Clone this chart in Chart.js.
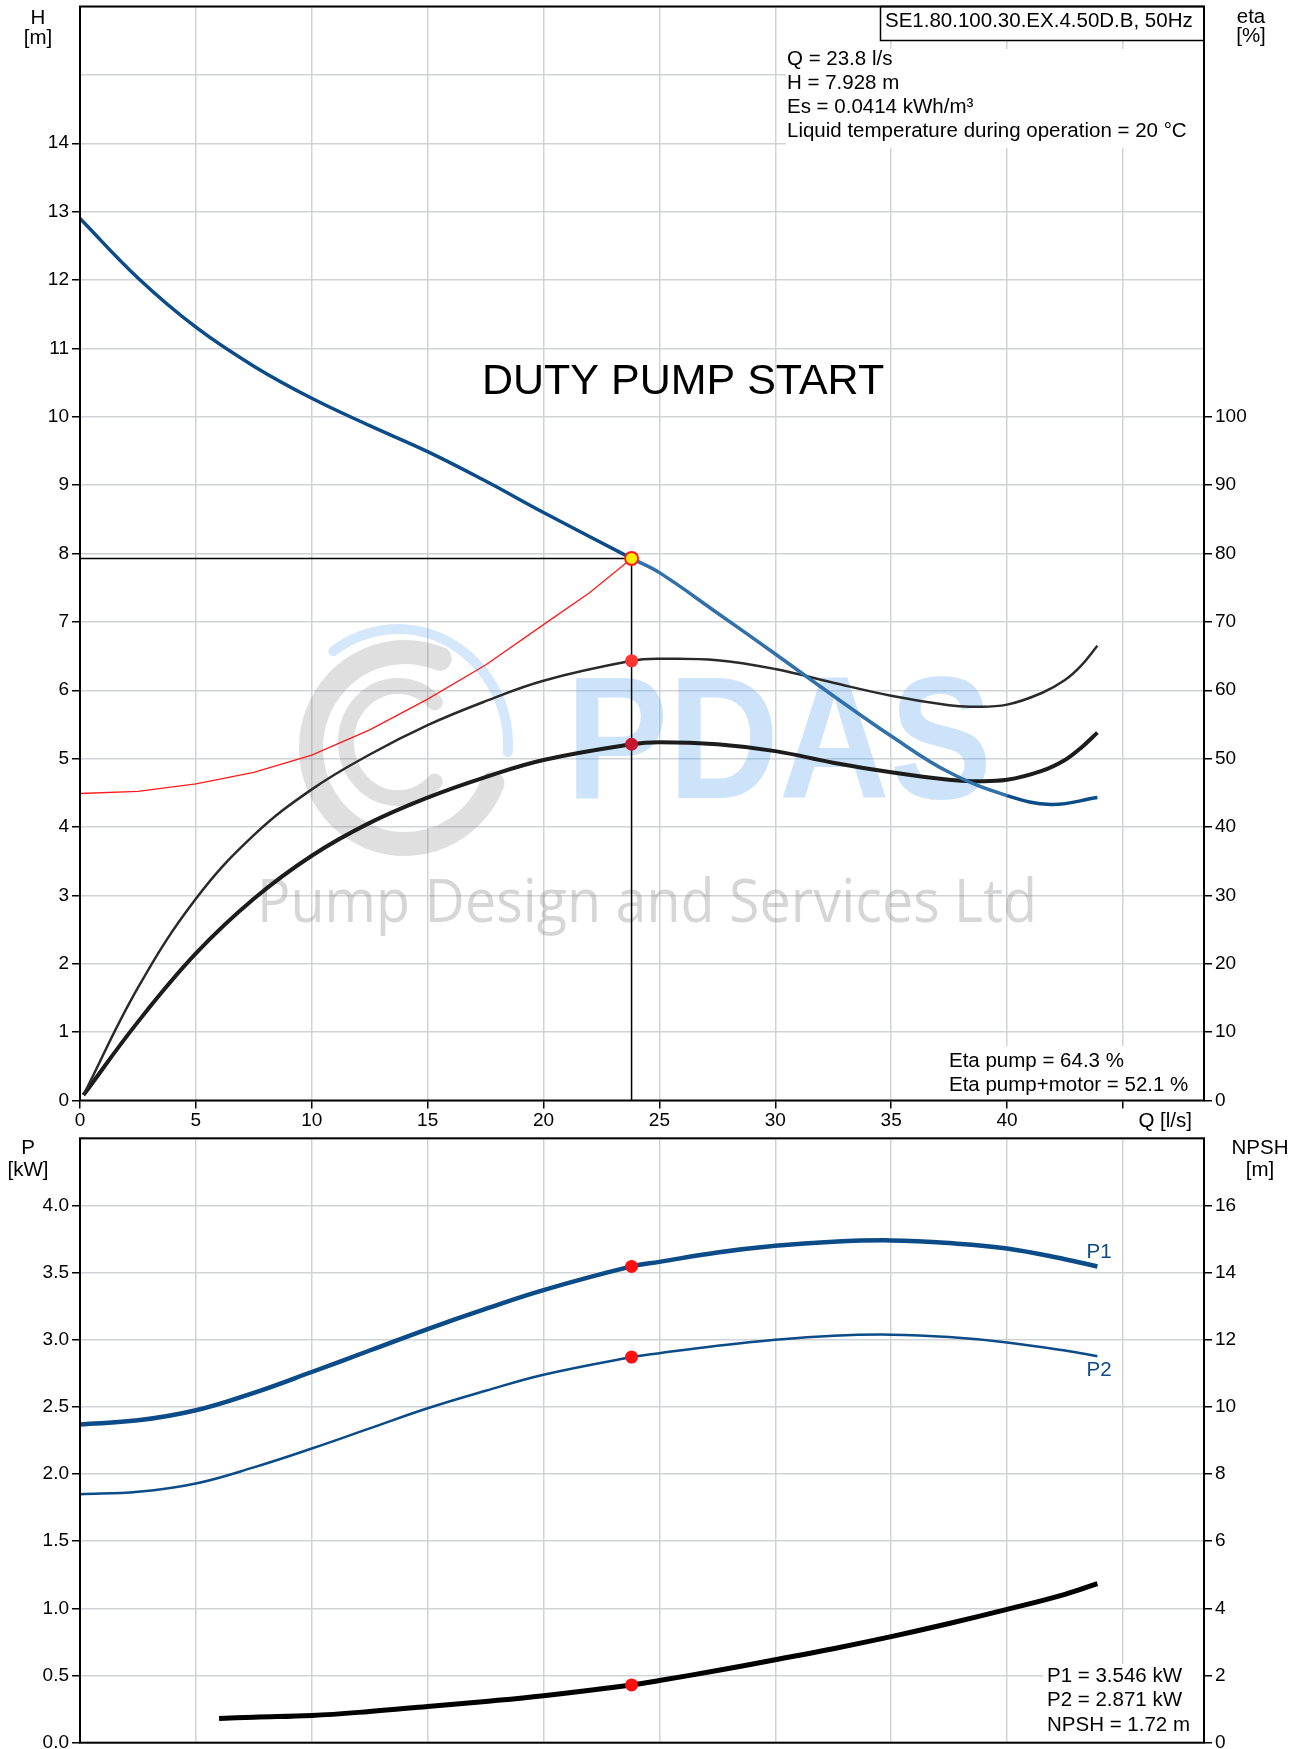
<!DOCTYPE html>
<html>
<head>
<meta charset="utf-8">
<script src="https://cdn.jsdelivr.net/npm/chart.js@4.4.1/dist/chart.umd.min.js"></script>
<style>
  html, body { margin: 0; padding: 0; background: #fff; }
  #wrap { position: relative; width: 1303px; height: 1749px; }
  canvas { position: absolute; left: 0; }
  #topChart { top: 0; }
  #bottomChart { top: 1136px; }
</style>
</head>
<body>
<div id="wrap">
  <canvas id="topChart" width="1303" height="1136"></canvas>
  <canvas id="bottomChart" width="1303" height="613"></canvas>
</div>
<script>
// axes
const flowMax = 48.5;
const flowTicks = [0, 5, 10, 15, 20, 25, 30, 35, 40, 45];
const flowTickLabels = ['0', '5', '10', '15', '20', '25', '30', '35', '40', ''];
const headTicks = [0, 1, 2, 3, 4, 5, 6, 7, 8, 9, 10, 11, 12, 13, 14, 15, 16];
const headTickLabels = ['0', '1', '2', '3', '4', '5', '6', '7', '8', '9', '10', '11', '12', '13', '14'];
const etaTicks = [0, 10, 20, 30, 40, 50, 60, 70, 80, 90, 100, 110, 120, 130, 140, 150, 160];
const etaTickLabels = ['0', '10', '20', '30', '40', '50', '60', '70', '80', '90', '100'];
const powerTicks = [0, 0.5, 1, 1.5, 2, 2.5, 3, 3.5, 4, 4.5];
const powerTickLabels = ['0.0', '0.5', '1.0', '1.5', '2.0', '2.5', '3.0', '3.5', '4.0'];
const npshTicks = [0, 2, 4, 6, 8, 10, 12, 14, 16, 18];
const npshTickLabels = ['0', '2', '4', '6', '8', '10', '12', '14', '16'];

// pump curve H(Q)
const headQ = [0, 2.5, 5, 7.5, 10, 12.5, 15, 17.5, 20, 23.8, 25, 27.5, 30, 32.5, 35, 37.5, 40, 41.9, 43.9];
const headH = [12.9, 12.03, 11.31, 10.74, 10.27, 9.87, 9.49, 9.06, 8.6, 7.928, 7.72, 7.13, 6.53, 5.92, 5.33, 4.8, 4.46, 4.33, 4.43];

// system curve (red)
const sysQ = [0, 2.5, 5, 7.5, 10, 12.5, 15, 17.5, 20, 22, 23.8];
const sysH = [4.49, 4.52, 4.63, 4.8, 5.05, 5.42, 5.87, 6.37, 6.96, 7.43, 7.928];

// efficiencies [%]
const etaQ = [0.15, 2.5, 5, 7.5, 10, 12.5, 15, 17.5, 20, 23.8, 25, 27.5, 30, 32.5, 35, 37.5, 38.5, 40, 41.5, 42.5, 43.2, 43.9];
const etaPump = [0.8, 16.5, 29.5, 38.8, 45.5, 50.6, 54.9, 58.4, 61.4, 64.3, 64.6, 64.4, 63.1, 61.1, 59.2, 57.8, 57.6, 57.9, 59.6, 61.5, 63.6, 66.5];
const etaTotal = [0.8, 11.5, 21.5, 29.5, 35.8, 40.6, 44.3, 47.3, 49.8, 52.1, 52.4, 52.1, 51.1, 49.4, 48, 46.9, 46.7, 46.9, 48.2, 49.8, 51.6, 53.8];

// power [kW]
const powerQ = [0, 2.5, 5, 7.5, 10, 12.5, 15, 17.5, 20, 23.8, 25, 27.5, 30, 32.5, 35, 37.5, 40, 42.5, 43.9];
const powerP1 = [2.37, 2.4, 2.475, 2.605, 2.76, 2.92, 3.08, 3.23, 3.37, 3.546, 3.58, 3.65, 3.7, 3.73, 3.74, 3.72, 3.68, 3.6, 3.546];
const powerP2 = [1.85, 1.868, 1.93, 2.05, 2.19, 2.34, 2.49, 2.62, 2.74, 2.871, 2.9, 2.955, 3.0, 3.03, 3.038, 3.02, 2.98, 2.92, 2.877];

// NPSH [m]
const npshQ = [6, 7.5, 10, 12.5, 15, 17.5, 20, 23.8, 25, 27.5, 30, 32.5, 35, 37.5, 40, 42.5, 43.9];
const npshM = [0.72, 0.76, 0.81, 0.93, 1.08, 1.23, 1.4, 1.72, 1.85, 2.15, 2.47, 2.8, 3.16, 3.55, 3.97, 4.42, 4.74];

// duty point
const dutyQ = 23.8;
const dutyH = 7.928;
const dutyEta = [64.3, 52.1];
const dutyPower = [3.546, 2.871];
const dutyNpsh = 1.72;

const FONT = "'Liberation Sans', Arial, Helvetica, sans-serif";
const GRID = '#d0d3d6';
const BLUE = '#0b4b88';
const BLUE_LIGHT = '#3170a8';

const pts = (xs, ys) => xs.map((x, i) => ({ x, y: ys[i] }));

function text(ctx, s, x, y, size, align, color) {
    ctx.save();
    ctx.font = size + 'px ' + FONT;
    ctx.fillStyle = color || '#000';
    ctx.textAlign = align || 'left';
    ctx.textBaseline = 'middle';
    ctx.fillText(s, x, y);
    ctx.restore();
}

function xScale(height, showLabels) {
    return {
        type: 'linear', min: 0, max: flowMax,
        afterBuildTicks: s => { s.ticks = flowTicks.map(v => ({ value: v })); },
        afterFit: s => { s.height = height; s.paddingLeft = 0; s.paddingRight = 0; s.paddingTop = 0; s.paddingBottom = 0; },
        ticks: {
            display: showLabels, autoSkip: false, maxRotation: 0, padding: 1, color: '#000',
            font: { family: FONT, size: 19 },
            callback: (v, i) => flowTickLabels[i] ?? '',
        },
        grid: { color: GRID, lineWidth: 1.5, drawTicks: showLabels, tickLength: 8, tickWidth: 1.5, tickColor: '#000' },
        border: { display: false },
    };
}

function yScale(pos, ticks, labels, width, showGrid) {
    return {
        type: 'linear', position: pos, min: ticks[0], max: ticks[ticks.length - 1],
        afterBuildTicks: s => { s.ticks = ticks.map(v => ({ value: v })); },
        afterFit: s => { s.width = width; s.paddingTop = 0; s.paddingBottom = 0; s.paddingLeft = 0; s.paddingRight = 0; },
        ticks: {
            autoSkip: false, padding: 3, color: '#000',
            font: { family: FONT, size: 19 },
            callback: (v, i) => labels[i] ?? '',
        },
        grid: {
            drawOnChartArea: showGrid, color: GRID, lineWidth: 1.5, tickLength: 8, tickWidth: 1.5,
            tickColor: c => (c.index < labels.length ? '#000' : 'rgba(0,0,0,0)'),
        },
        border: { display: false },
    };
}

const watermark = {
    id: 'watermark',
    beforeDatasetsDraw(chart) {
        const ctx = chart.ctx;
        ctx.save();
        ctx.lineCap = 'round';
        ctx.strokeStyle = 'rgba(120,120,120,0.24)';
        ctx.lineWidth = 24;
        ctx.beginPath(); ctx.ellipse(405, 748, 94, 96, 0, 0.12 * Math.PI, 1.62 * Math.PI); ctx.stroke();
        ctx.lineWidth = 16;
        ctx.beginPath(); ctx.ellipse(398, 742, 52, 56, 0, 0.25 * Math.PI, 1.75 * Math.PI); ctx.stroke();
        ctx.strokeStyle = 'rgba(100,170,240,0.28)';
        ctx.lineWidth = 10;
        ctx.beginPath(); ctx.ellipse(398, 745, 110, 116, 0, 1.3 * Math.PI, 2.02 * Math.PI); ctx.stroke();

        ctx.fillStyle = 'rgba(100,170,240,0.33)';
        ctx.font = 'bold 175px ' + FONT;
        ctx.textBaseline = 'alphabetic';
        ctx.fillText('PDAS', 566, 798, 426);
        ctx.fillStyle = 'rgba(120,120,120,0.3)';
        ctx.font = "60px 'Open Sans', " + FONT;
        ctx.fillText('Pump Design and Services Ltd', 257, 922, 780);
        ctx.restore();
    },
};

const topDecor = {
    id: 'topDecor',
    afterDraw(chart) {
        const ctx = chart.ctx;
        const a = chart.chartArea;
        ctx.save();
        ctx.fillStyle = '#fff';
        ctx.fillRect(786, 49, a.right - 786 - 1, 99);
        ctx.fillRect(946, 1046, a.right - 946 - 1, a.bottom - 1047);
        ctx.fillRect(880.5, a.top, a.right - 880.5, 34);
        ctx.strokeStyle = '#000';
        ctx.lineWidth = 1.5;
        ctx.strokeRect(880.5, a.top, a.right - 880.5, 34);
        ctx.lineWidth = 2;
        ctx.strokeRect(a.left, a.top, a.right - a.left, a.bottom - a.top);
        ctx.restore();

        text(ctx, 'SE1.80.100.30.EX.4.50D.B, 50Hz', 885, 21, 20.5);
        text(ctx, 'Q = 23.8 l/s', 787, 59, 20.5);
        text(ctx, 'H = 7.928 m', 787, 83, 20.5);
        text(ctx, 'Es = 0.0414 kWh/m³', 787, 107, 20.5);
        text(ctx, 'Liquid temperature during operation = 20 °C', 787, 131, 20.5);
        text(ctx, 'DUTY PUMP START', 482, 382, 43);
        text(ctx, 'Eta pump = 64.3 %', 949, 1061, 20.5);
        text(ctx, 'Eta pump+motor = 52.1 %', 949, 1085, 20.5);
        text(ctx, 'Q [l/s]', 1192, 1121, 20.5, 'right');
        text(ctx, 'H', 38, 18, 20.5, 'center');
        text(ctx, '[m]', 38, 38, 20.5, 'center');
        text(ctx, 'eta', 1251, 17, 20.5, 'center');
        text(ctx, '[%]', 1251, 36, 20.5, 'center');
    },
};

const bottomDecor = {
    id: 'bottomDecor',
    afterDraw(chart) {
        const ctx = chart.ctx;
        const a = chart.chartArea;
        ctx.save();
        ctx.fillStyle = '#fff';
        ctx.fillRect(1043, 528, a.right - 1043 - 1, a.bottom - 529);
        ctx.strokeStyle = '#000';
        ctx.lineWidth = 2;
        ctx.strokeRect(a.left, a.top, a.right - a.left, a.bottom - a.top);
        ctx.restore();

        text(ctx, 'P1 = 3.546 kW', 1047, 540, 20.5);
        text(ctx, 'P2 = 2.871 kW', 1047, 564, 20.5);
        text(ctx, 'NPSH = 1.72 m', 1047, 589, 20.5);
        text(ctx, 'P1', 1099, 116, 20.5, 'center', BLUE);
        text(ctx, 'P2', 1099, 234, 20.5, 'center', BLUE);
        text(ctx, 'P', 28, 12, 20.5, 'center');
        text(ctx, '[kW]', 28, 34, 20.5, 'center');
        text(ctx, 'NPSH', 1260, 12, 20.5, 'center');
        text(ctx, '[m]', 1260, 34, 20.5, 'center');
    },
};

const common = {
    responsive: false,
    animation: false,
    events: [],
    plugins: { legend: { display: false }, tooltip: { enabled: false } },
    elements: {
        point: { radius: 0 },
        line: { tension: 0.4, fill: false },
    },
};

new Chart(document.getElementById('topChart'), {
    type: 'line',
    data: {
        datasets: [
            {
                data: [{ x: dutyQ, y: dutyH }], yAxisID: 'yH', showLine: false,
                pointRadius: 6.5, pointBackgroundColor: '#ffee00', pointBorderColor: '#ff1a1a', pointBorderWidth: 2, order: 0,
            },
            {
                data: dutyEta.map(v => ({ x: dutyQ, y: v })), yAxisID: 'yEta', showLine: false,
                pointRadius: 6.5, pointBackgroundColor: ['#ff3535', '#c81530'], pointBorderWidth: 0, order: 1,
            },
            {
                data: pts(headQ, headH), yAxisID: 'yH', borderWidth: 3.5, borderColor: BLUE,
                segment: { borderColor: c => (c.p0.parsed.x >= dutyQ - 0.01 && c.p1.parsed.x <= 40.5 ? BLUE_LIGHT : BLUE) },
                order: 2,
            },
            {
                data: [{ x: 0, y: dutyH }, { x: dutyQ, y: dutyH }], yAxisID: 'yH',
                borderColor: '#000', borderWidth: 1.5, tension: 0, order: 3,
            },
            {
                data: [{ x: dutyQ, y: 0 }, { x: dutyQ, y: dutyH }], yAxisID: 'yH',
                borderColor: '#000', borderWidth: 1.5, tension: 0, order: 3,
            },
            {
                data: pts(sysQ, sysH), yAxisID: 'yH',
                borderColor: '#ff1a1a', borderWidth: 1.3, tension: 0, order: 4,
            },
            { data: pts(etaQ, etaPump), yAxisID: 'yEta', borderColor: '#2a2a2a', borderWidth: 2.5, order: 5 },
            { data: pts(etaQ, etaTotal), yAxisID: 'yEta', borderColor: '#1c1c1c', borderWidth: 4, order: 5 },
        ],
    },
    options: {
        ...common,
        layout: { autoPadding: false, padding: { top: 6.5, left: 0, right: 0, bottom: 0 } },
        scales: {
            x: xScale(35.5, true),
            yH: yScale('left', headTicks, headTickLabels, 80, true),
            yEta: yScale('right', etaTicks, etaTickLabels, 99, false),
        },
    },
    plugins: [watermark, topDecor],
});

new Chart(document.getElementById('bottomChart'), {
    type: 'line',
    data: {
        datasets: [
            {
                data: dutyPower.map(v => ({ x: dutyQ, y: v })), yAxisID: 'yP', showLine: false,
                pointRadius: 6.5, pointBackgroundColor: '#ff1010', pointBorderWidth: 0, order: 0,
            },
            {
                data: [{ x: dutyQ, y: dutyNpsh }], yAxisID: 'yN', showLine: false,
                pointRadius: 6.5, pointBackgroundColor: '#ff1010', pointBorderWidth: 0, order: 0,
            },
            { data: pts(powerQ, powerP1), yAxisID: 'yP', borderColor: BLUE, borderWidth: 4.5, order: 2 },
            { data: pts(powerQ, powerP2), yAxisID: 'yP', borderColor: BLUE, borderWidth: 2.5, order: 2 },
            { data: pts(npshQ, npshM), yAxisID: 'yN', borderColor: '#000', borderWidth: 5, order: 2 },
        ],
    },
    options: {
        ...common,
        layout: { autoPadding: false, padding: { top: 2.3, left: 0, right: 0, bottom: 0 } },
        scales: {
            x: xScale(6.3, false),
            yP: yScale('left', powerTicks, powerTickLabels, 80, true),
            yN: yScale('right', npshTicks, npshTickLabels, 99, false),
        },
    },
    plugins: [bottomDecor],
});
</script>
</body>
</html>
